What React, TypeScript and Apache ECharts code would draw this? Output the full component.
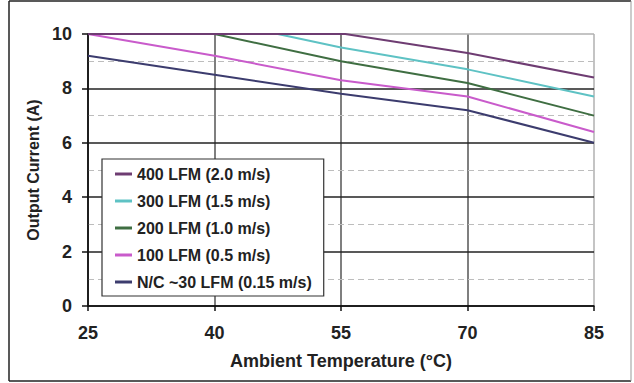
import React, { useEffect, useRef } from 'react';
import * as echarts from 'echarts';

// ---- data ----
const X_MIN = 25; // first tick of the temperature axis
const xTickLabels = [25, 40, 55, 70, 85];
const yTickLabels = [0, 2, 4, 6, 8, 10];

const seriesNames = [
  '400 LFM (2.0 m/s)',
  '300 LFM (1.5 m/s)',
  '200 LFM (1.0 m/s)',
  '100 LFM (0.5 m/s)',
  'N/C ~30 LFM (0.15 m/s)',
];
const seriesColors = ['#6E3C72', '#5EC2C4', '#3F6E42', '#C95BCB', '#3C3C6E'];

const temps400 = [25, 55.5, 70, 85];
const amps400 = [10, 10, 9.3, 8.4];
const temps300 = [25, 47.5, 55, 70, 85];
const amps300 = [10, 10, 9.5, 8.7, 7.7];
const temps200 = [25, 40, 55, 70, 85];
const amps200 = [10, 10, 9.0, 8.2, 7.0];
const temps100 = [25, 40, 55, 70, 85];
const amps100 = [10, 9.2, 8.3, 7.7, 6.4];
const tempsNC = [25, 40, 55, 70, 85];
const ampsNC = [9.2, 8.5, 7.8, 7.2, 6.0];

const xs = [temps400, temps300, temps200, temps100, tempsNC];
const ys = [amps400, amps300, amps200, amps100, ampsNC];

const FONT = '"Liberation Sans", Arial, Helvetica, sans-serif';

export default function App() {
  const ref = useRef<HTMLDivElement>(null);
  useEffect(() => {
    if (!ref.current) return;
    const chart = echarts.init(ref.current, undefined, { renderer: 'svg' });
    const series = seriesNames.map((name, i) => ({
      name,
      type: 'line',
      symbol: 'none',
      clip: false,
      data: xs[i].map((t, j) => [t - X_MIN, ys[i][j]]),
      lineStyle: { color: seriesColors[i], width: 2 },
      itemStyle: { color: seriesColors[i] },
      z: 3 + (seriesNames.length - i),
    }));
    chart.setOption({
      animation: false,
      backgroundColor: '#fff',
      grid: { left: 88, right: 40, top: 34, bottom: 77 },
      xAxis: {
        type: 'value',
        min: 0,
        max: xTickLabels[xTickLabels.length - 1] - X_MIN,
        interval: 15,
        axisLine: { show: true, onZero: false, lineStyle: { color: '#111', width: 1.5 } },
        axisTick: { show: true, length: 5, lineStyle: { color: '#111', width: 1.5 } },
        axisLabel: {
          formatter: (v: number) => String(v + X_MIN),
          margin: 18,
          fontFamily: FONT,
          fontWeight: 'bold',
          fontSize: 18,
          color: '#222',
        },
        splitLine: {
          show: true,
          lineStyle: { color: ['#111', '#555', '#555', '#555', '#b0b0b0'], width: 1.5 },
        },
        name: 'Ambient Temperature (°C)',
        nameLocation: 'middle',
        nameGap: 46,
        nameTextStyle: { fontFamily: FONT, fontWeight: 'bold', fontSize: 18, color: '#222' },
      },
      yAxis: [
        {
          type: 'value',
          min: yTickLabels[0],
          max: yTickLabels[yTickLabels.length - 1],
          interval: 2,
          z: 2,
          axisLine: { show: true, lineStyle: { color: '#111', width: 1.5 } },
          axisTick: { show: true, length: 6, lineStyle: { color: '#111', width: 1.5 } },
          axisLabel: {
            margin: 16,
            fontFamily: FONT,
            fontWeight: 'bold',
            fontSize: 18,
            color: '#222',
          },
          splitLine: {
            show: true,
            lineStyle: { color: ['#111', '#222', '#222', '#222', '#222', '#b0b0b0'], width: 1.5 },
          },
          name: 'Output Current (A)',
          nameLocation: 'middle',
          nameGap: 44,
          nameTextStyle: { fontFamily: FONT, fontWeight: 'bold', fontSize: 16, color: '#222' },
        },
        {
          type: 'value',
          min: 0,
          max: 10,
          interval: 1,
          z: 1,
          position: 'left',
          axisLine: { show: false },
          axisTick: { show: false },
          axisLabel: { show: false },
          splitLine: {
            show: true,
            lineStyle: { color: ['transparent', '#bdbdbd'], type: [6, 4], width: 1.2 },
          },
        },
      ],
      legend: {
        data: seriesNames,
        orient: 'vertical',
        left: 102,
        top: 159,
        padding: [7, 12, 6, 13],
        itemGap: 11,
        itemWidth: 17,
        itemHeight: 3,
        icon: 'rect',
        backgroundColor: '#fff',
        borderColor: '#333',
        borderWidth: 1.2,
        textStyle: { fontFamily: FONT, fontWeight: 'bold', fontSize: 16, color: '#222' },
        z: 10,
      },
      graphic: [
        { type: 'line', shape: { x1: 9, y1: 1, x2: 631, y2: 1 }, style: { stroke: '#222', lineWidth: 1.5 } },
        { type: 'line', shape: { x1: 9, y1: 1, x2: 9, y2: 381 }, style: { stroke: '#222', lineWidth: 1.5 } },
        { type: 'line', shape: { x1: 9, y1: 381, x2: 631, y2: 381 }, style: { stroke: '#222', lineWidth: 1.5 } },
        { type: 'line', shape: { x1: 631, y1: 1, x2: 631, y2: 381 }, style: { stroke: '#999', lineWidth: 1 } },
      ],
      series,
    });
    return () => chart.dispose();
  }, []);
  return (
    <div
      ref={ref}
      style={{ position: 'fixed', left: 0, top: 0, width: 634, height: 383 }}
    />
  );
}
